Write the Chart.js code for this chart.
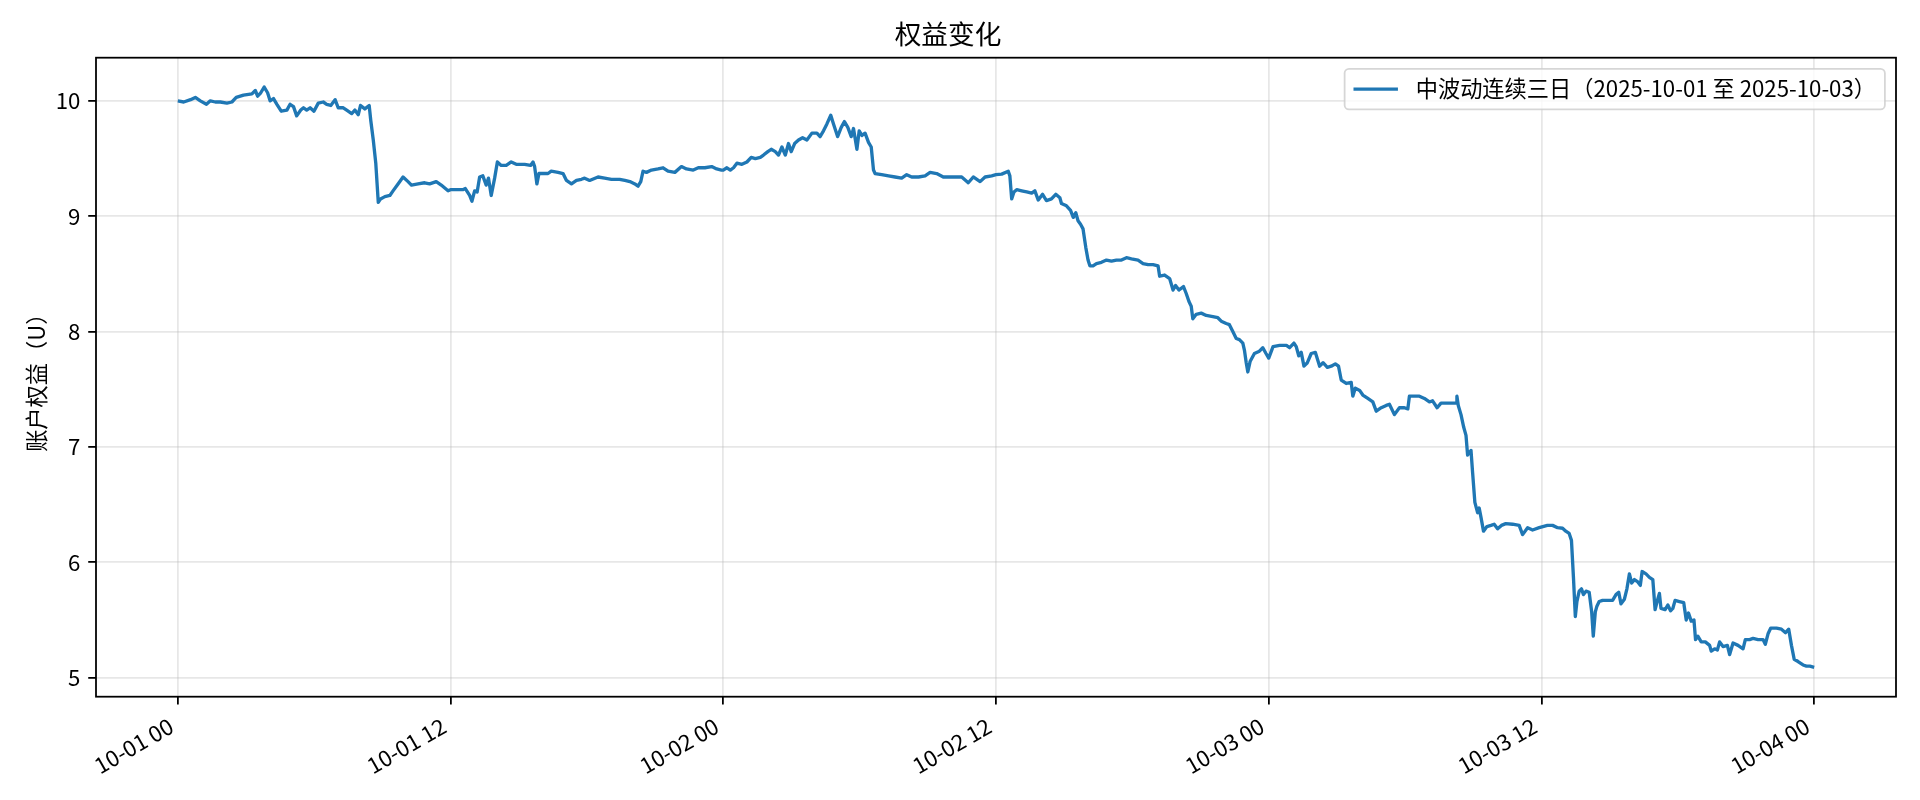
<!DOCTYPE html>
<html><head><meta charset="utf-8">
<script src="https://cdn.jsdelivr.net/npm/chart.js@4/dist/chart.umd.min.js"></script>
<style>html,body{margin:0;padding:0;background:#fff}#wrap{width:1920px;height:800px;position:relative}</style>
</head><body><div id="wrap"><canvas id="c" width="1920" height="800"></canvas></div>
<script>
const chartTitle = '权益变化';
const yAxisTitle = '账户权益（U）';
const seriesLabel = '中波动连续三日（2025-10-01 至 2025-10-03）';
const xTickHours = [0, 12, 24, 36, 48, 60, 72];
const xTickLabels = ['10-01 00', '10-01 12', '10-02 00', '10-02 12', '10-03 00', '10-03 12', '10-04 00'];
const yTickValues = [5, 6, 7, 8, 9, 10];
// hours since 2025-10-01 00:00
const hours = [
0,0.26,0.56,0.77,0.99,1.26,1.43,1.65,1.87,2.16,2.38,2.57,2.89,3.26,3.41,3.51,3.65,3.80,3.95,4.06,4.21,4.36,4.55,4.80,4.94,5.09,5.23,5.41,5.53,5.67,5.82,5.99,6.18,6.40,6.55,6.73,6.92,7.06,7.28,7.43,7.65,7.79,7.94,8.04,8.23,8.42,8.49,8.60,8.71,8.82,8.92,9.11,9.33,9.47,9.69,9.91,10.13,10.28,10.57,10.86,11.08,11.37,11.59,11.89,
12.00,12.54,12.65,12.84,12.94,13.06,13.17,13.28,13.42,13.57,13.67,13.79,13.94,14.06,14.23,14.45,14.67,14.89,15.26,15.52,15.63,15.70,15.80,15.89,16.07,16.29,16.43,16.73,16.95,17.10,17.32,17.54,17.76,17.90,18.12,18.49,18.78,19.08,19.44,19.67,19.89,20.11,20.25,20.37,20.47,20.62,20.84,21.13,21.35,21.57,21.87,22.16,22.38,22.68,22.90,23.19,23.49,23.71,23.92,
24.00,24.16,24.31,24.45,24.60,24.82,25.04,25.23,25.41,25.63,25.77,25.96,26.11,26.29,26.43,26.58,26.73,26.87,26.99,27.14,27.31,27.49,27.68,27.90,28.12,28.26,28.41,28.56,28.73,28.85,29.03,29.19,29.33,29.48,29.63,29.73,29.88,29.98,30.10,30.24,30.39,30.51,30.61,30.68,30.97,31.27,31.56,31.85,32.07,32.29,32.59,32.88,33.10,33.39,33.68,33.90,34.20,34.49,34.78,35.00,35.30,35.52,35.81,
36.00,36.25,36.54,36.61,36.69,36.79,36.91,37.13,37.35,37.57,37.71,37.86,38.05,38.22,38.44,38.63,38.81,38.88,39.10,39.28,39.40,39.51,39.61,39.72,39.83,39.95,40.05,40.13,40.27,40.42,40.64,40.86,41.08,41.30,41.52,41.74,41.96,42.25,42.47,42.69,42.91,43.13,43.20,43.42,43.64,43.79,43.90,44.05,44.25,44.37,44.49,44.59,44.66,44.81,45.03,45.25,45.54,45.76,45.91,46.13,46.27,46.42,46.57,46.71,46.86,46.93,47.01,47.08,47.18,47.37,47.59,47.74,47.88,
48.00,48.19,48.48,48.78,48.92,49.11,49.21,49.32,49.43,49.55,49.70,49.87,50.05,50.24,50.39,50.58,50.75,50.93,51.07,51.19,51.41,51.63,51.70,51.81,52.00,52.14,52.36,52.58,52.73,52.95,53.17,53.31,53.53,53.75,53.97,54.12,54.19,54.41,54.63,54.85,55.07,55.21,55.41,55.58,55.80,56.02,56.24,56.28,56.34,56.46,56.58,56.68,56.75,56.90,56.97,57.07,57.19,57.26,57.34,57.45,57.60,57.78,57.92,58.07,58.24,58.43,58.73,59.02,59.17,59.39,59.61,59.90,
60.26,60.49,60.71,60.93,61.07,61.22,61.32,61.41,61.49,61.56,61.66,61.76,61.85,61.96,62.10,62.21,62.28,62.37,62.44,62.54,62.69,62.91,63.13,63.28,63.40,63.50,63.65,63.76,63.87,63.97,64.09,64.24,64.35,64.43,64.60,64.75,64.90,65.00,65.09,65.19,65.26,65.44,65.56,65.68,65.78,65.88,66.07,66.26,66.37,66.47,66.59,66.71,66.78,66.88,67.03,67.21,67.40,67.47,67.62,67.74,67.84,67.99,68.18,68.28,68.43,68.65,68.87,68.97,69.16,69.31,69.53,69.75,69.85,69.97,70.09,70.34,70.56,70.74,70.88,71.00,71.12,71.29,71.51,71.66,71.81,72.00
];
const equity = [
10.00,9.99,10.01,10.03,10.00,9.97,10.00,9.99,9.99,9.98,9.99,10.03,10.05,10.06,10.09,10.04,10.07,10.12,10.07,10.00,10.02,9.97,9.91,9.92,9.97,9.95,9.87,9.92,9.94,9.92,9.94,9.91,9.98,9.99,9.97,9.96,10.01,9.94,9.94,9.92,9.89,9.92,9.88,9.96,9.93,9.96,9.83,9.66,9.46,9.12,9.15,9.17,9.18,9.22,9.28,9.34,9.30,9.27,9.28,9.29,9.28,9.30,9.27,9.22,
9.23,9.23,9.24,9.18,9.13,9.22,9.21,9.34,9.35,9.27,9.33,9.18,9.33,9.47,9.44,9.44,9.47,9.45,9.45,9.44,9.47,9.43,9.28,9.37,9.37,9.37,9.39,9.38,9.37,9.31,9.28,9.31,9.32,9.33,9.31,9.34,9.33,9.32,9.32,9.31,9.30,9.28,9.26,9.30,9.39,9.38,9.40,9.41,9.42,9.39,9.38,9.43,9.41,9.40,9.42,9.42,9.43,9.41,9.40,
9.40,9.42,9.40,9.42,9.46,9.45,9.47,9.51,9.50,9.51,9.53,9.56,9.58,9.56,9.53,9.60,9.53,9.63,9.56,9.63,9.66,9.68,9.66,9.72,9.72,9.69,9.74,9.80,9.875,9.80,9.69,9.77,9.82,9.77,9.69,9.76,9.58,9.74,9.70,9.72,9.64,9.60,9.40,9.37,9.36,9.35,9.34,9.33,9.36,9.34,9.34,9.35,9.38,9.37,9.34,9.34,9.34,9.34,9.29,9.34,9.30,9.34,9.35,
9.36,9.365,9.39,9.35,9.15,9.21,9.23,9.22,9.21,9.20,9.22,9.14,9.19,9.135,9.15,9.19,9.16,9.11,9.09,9.05,8.99,9.03,8.96,8.93,8.89,8.73,8.62,8.57,8.57,8.59,8.60,8.62,8.61,8.62,8.62,8.64,8.63,8.62,8.59,8.58,8.58,8.57,8.48,8.49,8.46,8.36,8.40,8.36,8.39,8.33,8.26,8.22,8.11,8.15,8.16,8.14,8.13,8.12,8.09,8.07,8.06,8.00,7.94,7.93,7.90,7.84,7.73,7.65,7.74,7.81,7.83,7.86,7.81,
7.77,7.87,7.88,7.88,7.86,7.90,7.87,7.79,7.82,7.70,7.73,7.81,7.82,7.70,7.73,7.69,7.70,7.72,7.70,7.58,7.55,7.56,7.44,7.51,7.49,7.45,7.42,7.39,7.31,7.34,7.36,7.37,7.28,7.34,7.34,7.33,7.44,7.44,7.44,7.42,7.39,7.40,7.34,7.38,7.38,7.38,7.38,7.44,7.36,7.28,7.17,7.10,6.93,6.97,6.78,6.52,6.43,6.47,6.39,6.27,6.31,6.32,6.33,6.29,6.32,6.335,6.33,6.32,6.24,6.30,6.28,6.30,
6.32,6.32,6.30,6.295,6.27,6.25,6.19,5.86,5.53,5.66,5.75,5.77,5.72,5.75,5.74,5.57,5.36,5.57,5.62,5.66,5.67,5.67,5.67,5.72,5.74,5.64,5.68,5.77,5.90,5.82,5.85,5.83,5.80,5.92,5.90,5.87,5.85,5.59,5.66,5.73,5.60,5.59,5.63,5.58,5.60,5.67,5.66,5.65,5.50,5.56,5.49,5.50,5.33,5.36,5.31,5.31,5.28,5.23,5.25,5.24,5.31,5.27,5.28,5.20,5.30,5.28,5.25,5.33,5.33,5.34,5.33,5.33,5.29,5.38,5.43,5.43,5.42,5.39,5.42,5.28,5.16,5.14,5.11,5.10,5.10,5.09
];

const PX = 160 / 72;
const FONT = "'Noto Sans CJK SC', 'Noto Sans CJK JP', 'DejaVu Sans', sans-serif";
Chart.defaults.font.family = FONT;
Chart.defaults.color = '#000';

const frameAndLegend = {
  id: 'frameAndLegend',
  afterDraw(chart) {
    const ctx = chart.ctx, a = chart.chartArea;
    ctx.save();
    ctx.strokeStyle = '#000';
    ctx.lineWidth = 0.8 * PX;
    ctx.strokeRect(a.left, a.top, a.right - a.left, a.bottom - a.top);
    // legend (upper right, matplotlib style)
    const ds = chart.data.datasets[0];
    const fs = 10 * PX;
    ctx.font = fs + 'px ' + FONT;
    const tw = ctx.measureText(ds.label).width;
    const pad = 0.4 * fs, hl = 2 * fs, htp = 0.8 * fs, bap = 0.5 * fs;
    const right = a.right - bap, top = a.top + bap;
    const h = 2 * pad + 22.7;
    const left = right - (pad + hl + htp + tw + pad);
    const r = 4.4;
    ctx.beginPath();
    ctx.moveTo(left + r, top);
    ctx.lineTo(right - r, top); ctx.arcTo(right, top, right, top + r, r);
    ctx.lineTo(right, top + h - r); ctx.arcTo(right, top + h, right - r, top + h, r);
    ctx.lineTo(left + r, top + h); ctx.arcTo(left, top + h, left, top + h - r, r);
    ctx.lineTo(left, top + r); ctx.arcTo(left, top, left + r, top, r);
    ctx.closePath();
    ctx.fillStyle = 'rgba(255,255,255,0.8)';
    ctx.fill();
    ctx.strokeStyle = 'rgba(204,204,204,0.8)';
    ctx.lineWidth = 0.8 * PX;
    ctx.stroke();
    const cy = top + h / 2;
    ctx.beginPath();
    ctx.moveTo(left + pad, cy); ctx.lineTo(left + pad + hl, cy);
    ctx.strokeStyle = ds.borderColor; ctx.lineWidth = ds.borderWidth;
    ctx.stroke();
    ctx.fillStyle = '#000';
    ctx.textBaseline = 'middle';
    ctx.textAlign = 'left';
    ctx.fillText(ds.label, left + pad + hl + htp, cy);
    ctx.restore();
  }
};

new Chart(document.getElementById('c'), {
  type: 'line',
  data: {
    datasets: [{
      label: seriesLabel,
      data: hours.map((hh, i) => ({ x: hh, y: equity[i] })),
      borderColor: '#1f77b4',
      borderWidth: 1.5 * PX,
      pointRadius: 0,
      tension: 0,
      fill: false,
      borderJoinStyle: 'round'
    }]
  },
  options: {
    responsive: false,
    animation: false,
    devicePixelRatio: 1,
    layout: { padding: { left: 0, right: 24, top: 0, bottom: 0 } },
    plugins: {
      legend: { display: false },
      tooltip: { enabled: false },
      title: {
        display: true, text: chartTitle, color: '#000',
        font: { size: 12 * PX, weight: 'normal', lineHeight: 1.2 },
        padding: { top: 18, bottom: 7.7 }
      }
    },
    scales: {
      x: {
        type: 'linear', min: -3.6, max: 75.6,
        afterBuildTicks: s => { s.ticks = xTickHours.map(v => ({ value: v })); },
        afterFit: s => { s.height = 103.3; },
        grid: { color: 'rgba(176,176,176,0.3)', lineWidth: 0.8 * PX, tickColor: '#000', tickWidth: 0.8 * PX, tickLength: 3.5 * PX },
        border: { display: false },
        ticks: {
          autoSkip: false, maxRotation: 30, minRotation: 30, padding: 8, labelOffset: -6.7,
          font: { size: 10 * PX }, color: '#000',
          callback: v => { const i = xTickHours.indexOf(v); return i >= 0 ? xTickLabels[i] : ''; }
        }
      },
      y: {
        min: 4.835, max: 10.374,
        afterBuildTicks: s => { s.ticks = yTickValues.map(v => ({ value: v })); },
        afterFit: s => { s.width = 96; },
        grid: { color: 'rgba(176,176,176,0.3)', lineWidth: 0.8 * PX, tickColor: '#000', tickWidth: 0.8 * PX, tickLength: 3.5 * PX },
        border: { display: false },
        title: { display: true, text: yAxisTitle, color: '#000', font: { size: 10 * PX, lineHeight: 1.2 }, padding: { top: 23.4, bottom: 0 } },
        ticks: { padding: 7.8, font: { size: 10 * PX }, color: '#000', callback: v => String(v) }
      }
    }
  },
  plugins: [frameAndLegend]
});
</script>
</body></html>
